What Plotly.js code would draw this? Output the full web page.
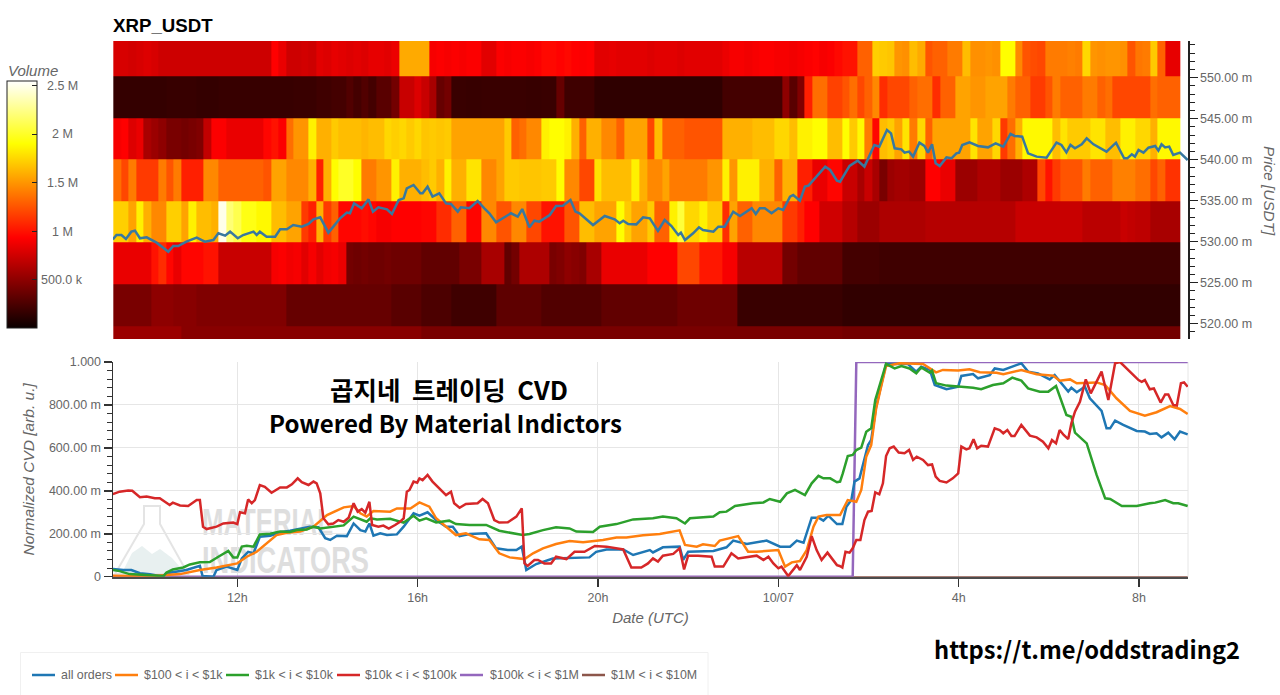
<!DOCTYPE html>
<html><head><meta charset="utf-8">
<script src="https://cdn.plot.ly/plotly-3.0.1.min.js"></script>
<style>html,body{margin:0;padding:0;background:#fff;overflow:hidden}#g{width:1280px;height:695px}</style>
</head><body><div id="g"></div>
<script>
// Heatmap rows, top band first; values are volume in units of 10 k, one per 10-minute column
const band1=[78,78,76,78,80,78,74,74,74,74,74,74,74,74,74,74,74,74,74,74,74,93,85,74,74,76,74,82,80,84,82,80,82,80,84,84,82,86,158,158,158,158,90,92,90,92,90,92,92,82,82,92,90,92,92,90,92,96,96,94,96,93,92,93,82,82,84,82,82,82,82,80,82,82,82,80,82,82,82,82,82,86,90,90,88,90,92,92,90,90,88,90,92,94,90,92,96,100,100,130,130,172,170,168,150,148,165,158,125,130,130,140,140,165,148,148,150,148,190,190,145,125,122,120,140,140,140,142,140,175,150,148,150,150,148,125,138,140,170,130,84,84];
const band2=[16,16,16,16,16,16,16,17,17,17,17,16,16,16,17,17,17,17,17,17,17,17,17,17,18,18,18,20,20,22,22,27,22,27,22,30,30,40,72,72,80,72,60,35,40,18,18,17,17,18,18,18,18,18,18,17,17,18,18,35,20,20,20,20,14,14,14,14,14,14,14,14,14,14,14,14,14,14,14,14,14,22,22,22,22,22,22,22,22,50,30,45,105,135,135,118,118,125,135,120,130,145,110,120,120,120,130,135,135,110,130,130,155,155,150,150,155,155,155,140,130,130,115,115,125,140,130,130,130,140,140,130,135,120,120,120,120,120,135,130,130,130];
const band3=[90,93,80,85,60,55,50,42,42,40,42,45,70,92,92,85,85,85,85,85,95,100,92,135,150,150,185,160,160,170,165,165,165,162,165,165,175,172,175,170,175,168,170,168,170,155,155,155,155,155,155,155,170,130,135,145,145,185,190,190,185,160,130,160,160,145,145,130,155,155,155,120,165,130,130,130,125,125,125,125,125,160,160,160,160,165,165,165,175,175,165,185,185,190,190,165,165,190,170,188,140,95,165,170,155,180,140,175,130,155,155,155,155,155,180,155,155,175,115,135,160,188,188,188,188,165,180,170,170,170,180,180,165,165,185,185,175,175,160,188,188,188];
const band4=[135,120,140,115,115,115,140,125,140,105,105,105,145,145,130,130,130,130,130,130,125,155,155,145,145,145,160,105,160,190,200,200,190,140,140,150,150,185,160,160,160,165,170,160,185,160,160,180,180,145,145,155,170,170,168,168,168,170,170,190,145,145,120,120,180,165,165,165,165,185,160,145,145,155,140,140,140,140,140,150,150,185,150,185,185,185,160,160,130,160,160,105,105,85,85,95,95,72,72,60,72,60,42,55,58,58,55,55,93,93,85,85,55,55,55,62,62,62,55,55,55,62,62,120,100,115,125,125,125,140,130,130,130,142,142,142,135,135,120,130,112,112];
const band5=[172,172,155,185,160,145,145,172,172,155,185,165,165,160,250,220,210,195,195,188,188,165,165,155,155,115,105,160,115,130,95,95,95,98,95,90,90,93,93,93,93,95,95,110,110,130,130,95,95,145,145,125,125,145,145,120,120,100,100,100,125,125,165,165,155,155,155,190,170,155,155,170,130,130,185,205,175,175,185,170,170,110,155,130,130,145,145,145,145,115,115,105,93,93,75,75,75,65,65,55,55,55,62,62,62,62,62,62,65,65,65,65,65,65,65,65,65,65,65,65,72,72,72,72,72,72,72,72,72,67,67,67,67,67,72,70,68,68,60,60,60,60];
const band6=[85,85,85,85,85,100,110,95,85,95,95,95,100,100,72,72,72,72,72,72,72,90,92,88,90,82,90,82,88,90,85,40,38,40,38,38,40,38,38,38,38,33,33,33,33,33,42,42,42,60,60,60,33,40,62,62,62,62,42,45,50,48,45,60,60,85,85,85,85,85,85,93,93,93,93,120,120,120,102,102,102,90,90,66,66,66,66,66,66,40,40,33,33,33,33,33,33,22,22,22,22,22,20,20,20,20,20,20,20,20,20,20,20,20,20,20,20,20,20,20,20,20,20,20,20,20,20,20,20,20,20,20,20,20,20,20,20,20,20,20,20,20];
const band7=[42,42,42,42,42,50,50,50,48,48,48,45,45,45,45,45,45,45,45,45,45,45,45,35,35,35,35,35,35,35,35,35,35,35,35,35,35,30,30,30,30,25,25,25,25,20,20,20,20,20,20,32,32,32,32,32,32,27,27,27,27,27,27,27,27,33,33,33,33,33,33,33,33,33,33,38,38,38,38,38,38,38,38,18,18,18,18,18,18,18,18,18,18,18,18,18,18,15,15,15,15,15,15,15,15,15,15,15,15,15,15,15,15,15,15,15,15,15,15,15,15,15,15,15,15,15,15,15,15,15,15,15,15,15,15,15,15,15,15,15,15,15];
const band8=[55,55,55,55,55,55,55,55,55,48,48,48,48,48,48,48,48,48,48,48,48,48,48,48,48,48,48,48,48,48,48,48,48,48,48,48,48,48,48,48,48,42,42,42,42,42,42,42,42,42,42,42,42,42,42,42,42,42,42,42,42,42,42,42,42,42,42,42,42,42,42,42,42,42,42,42,42,42,42,42,42,42,42,42,42,42,42,42,42,42,42,42,42,42,42,42,42,40,40,40,40,40,40,40,40,40,40,40,40,40,40,40,40,40,40,40,40,40,40,40,40,40,40,40,40,40,40,40,40,40,40,40,40,40,40,40,40,40,40,40,40,40];
const bandEdges=[514.6,519.7,524.8,529.9,534.9,540.0,545.1,550.2,555.3];

// Series: hours since 00:00 on the first day, and value (milli-units)
const priceH=[9.24,9.32,9.43,9.53,9.65,9.73,9.84,9.99,10.21,10.47,10.58,10.69,10.87,11.10,11.28,11.47,11.58,11.73,11.84,12.01,12.13,12.36,12.43,12.50,12.65,12.84,12.95,13.10,13.24,13.43,13.58,13.69,13.84,14.02,14.13,14.28,14.43,14.50,14.59,14.76,14.91,15.01,15.13,15.32,15.43,15.58,15.69,15.76,15.91,16.06,16.11,16.22,16.33,16.48,16.63,16.74,16.89,16.96,17.15,17.33,17.48,17.59,17.74,17.85,18.07,18.22,18.32,18.48,18.59,18.70,18.93,19.07,19.22,19.39,19.50,19.59,19.89,20.15,20.37,20.48,20.56,20.67,20.85,21.00,21.15,21.33,21.48,21.63,21.78,21.84,21.93,22.11,22.24,22.33,22.56,22.67,22.81,23.00,23.15,23.41,23.50,23.59,23.70,23.85,24.00,24.11,24.26,24.33,24.48,24.59,24.67,25.04,25.15,25.30,25.37,25.58,25.76,25.91,26.13,26.24,26.41,26.50,26.58,26.73,26.80,26.90,26.99,27.13,27.24,27.32,27.41,27.49,27.58,27.73,27.84,27.95,28.01,28.08,28.24,28.43,28.65,28.82,28.99,29.15,29.24,29.41,29.54,29.73,29.95,30.17,30.28,30.39,30.48,30.58,30.73,30.84,30.99,31.28,31.49,31.67,31.74,31.84,31.91,31.99,32.10,32.21,32.36,32.43,32.50,32.58,32.67,32.76,32.91,33.08];
const priceV=[530.28,530.81,530.81,530.33,531.22,531.34,530.41,530.53,529.88,528.78,529.47,529.47,530.0,530.49,530.0,530.2,531.02,530.73,531.22,530.41,530.81,531.22,530.81,531.22,530.61,530.61,531.5,531.5,532.03,531.83,532.15,532.72,532.97,531.1,531.83,532.85,533.54,533.46,534.67,534.07,535.16,533.66,534.19,533.94,533.37,535.08,535.28,536.5,536.91,535.89,535.89,536.71,535.49,535.89,534.67,534.59,533.66,534.19,534.07,534.96,534.07,533.46,532.36,532.72,533.46,533.05,533.98,531.75,532.56,532.44,533.25,534.35,534.39,535.08,533.66,533.46,532.03,533.13,532.72,532.24,532.56,532.15,532.11,532.97,532.85,531.3,532.64,531.91,530.81,531.1,530.2,531.02,531.75,531.42,531.22,531.83,531.83,533.66,533.13,534.07,533.37,534.07,534.07,533.46,534.07,533.86,535.49,535.69,535.0,536.71,536.83,539.15,538.74,537.44,537.32,539.23,539.88,539.15,541.79,541.59,543.62,543.21,541.38,541.26,540.85,540.98,540.37,542.07,541.67,540.85,541.87,539.55,539.23,540.28,540.16,540.77,540.85,541.79,542.11,541.67,541.5,541.99,541.59,543.13,542.89,542.8,540.77,540.37,540.24,542.07,541.79,540.89,541.79,541.38,541.87,542.6,541.87,540.98,542.07,540.16,540.16,540.65,540.37,541.18,540.85,541.46,541.67,541.1,541.87,541.5,541.59,540.57,540.85,539.96];

const allH=[9.24,9.47,9.65,9.84,10.06,10.36,10.43,10.65,10.87,11.17,11.23,11.47,11.54,11.76,11.91,12.00,12.10,12.24,12.36,12.50,12.73,12.95,13.17,13.39,13.61,13.80,13.95,14.06,14.21,14.43,14.58,14.73,14.84,14.93,15.02,15.17,15.32,15.54,15.69,15.91,16.04,16.22,16.41,16.63,16.78,16.93,17.15,17.52,17.74,18.00,18.19,18.31,18.41,18.63,19.00,19.81,19.96,20.19,20.56,20.78,21.15,21.22,21.44,21.81,21.89,22.00,22.56,22.85,23.00,23.30,23.74,24.04,24.26,24.41,24.56,24.74,24.89,25.00,25.11,25.30,25.42,25.51,25.62,25.69,25.80,25.99,26.06,26.17,26.28,26.39,26.87,27.06,27.17,27.36,27.47,27.73,27.99,28.06,28.32,28.43,28.69,28.80,28.99,29.21,29.39,29.54,29.76,30.02,30.13,30.43,30.50,30.62,30.80,30.91,31.17,31.28,31.36,31.47,31.65,31.95,32.13,32.24,32.39,32.50,32.65,32.79,32.91,33.08];
const allV=[36,31,31,16,11,0,16,23,31,51,3,0,31,47,39,31,85,116,109,186,191,207,214,225,233,230,179,171,191,189,248,217,210,248,191,202,194,197,233,295,284,300,264,233,233,189,199,202,132,124,124,140,31,59,85,90,116,127,127,101,124,113,137,140,78,116,120,137,168,152,168,140,140,168,158,275,275,261,284,245,245,326,357,443,458,613,637,792,885,991,991,955,978,963,893,873,885,935,944,924,939,970,963,981,994,955,947,919,939,862,880,859,885,831,772,691,691,727,707,679,676,665,668,649,671,640,676,663];

const smallH=[9.24,9.54,10.13,10.43,10.73,11.17,11.54,12.00,12.21,12.43,12.65,12.87,13.10,13.39,13.69,13.99,14.36,14.58,14.73,14.87,15.02,15.39,15.54,15.84,16.04,16.26,16.41,16.63,16.85,17.07,17.37,17.59,17.81,18.04,18.37,18.56,18.78,19.07,19.37,19.67,20.11,20.41,20.63,21.00,21.37,21.81,21.93,22.19,22.33,22.59,22.70,23.11,23.33,23.52,24.00,24.15,24.30,24.48,24.63,24.78,24.89,25.07,25.37,25.54,25.73,25.84,25.95,26.06,26.17,26.28,26.39,26.69,27.21,27.50,27.65,27.99,28.24,28.47,28.84,28.99,29.39,29.73,30.10,30.24,30.47,30.62,31.06,31.25,31.50,31.80,32.13,32.39,32.69,32.91,33.08];
const smallV=[5,3,3,8,12,31,43,62,93,116,155,194,205,210,233,287,323,329,295,280,306,303,318,318,346,326,272,233,194,202,174,171,109,90,82,109,132,152,166,160,171,182,183,193,199,216,148,140,151,143,168,189,116,116,124,47,67,73,124,233,280,287,287,357,349,404,559,613,784,885,981,994,991,952,963,960,966,952,950,943,963,943,936,913,919,901,905,893,831,772,750,766,795,781,758];

const midH=[9.24,9.39,9.61,9.84,10.06,10.36,10.43,10.57,10.80,10.95,11.17,11.39,11.58,11.80,11.91,12.00,12.10,12.21,12.36,12.50,12.73,12.95,13.17,13.32,13.54,13.69,13.84,14.06,14.36,14.58,14.73,14.87,14.95,15.10,15.39,15.69,15.91,16.04,16.19,16.41,16.70,16.85,17.15,17.52,17.81,18.11,18.33,18.48,18.78,19.07,19.37,19.52,19.89,20.04,20.41,20.78,21.22,21.44,21.74,21.93,22.04,22.56,22.70,22.85,23.04,23.44,23.67,23.81,24.04,24.19,24.37,24.59,24.74,24.89,25.00,25.15,25.30,25.37,25.43,25.54,25.65,25.73,25.84,25.95,26.06,26.15,26.24,26.39,26.58,26.73,26.91,27.06,27.17,27.36,27.41,27.50,27.73,28.02,28.32,28.50,28.76,28.99,29.19,29.39,29.54,29.80,29.99,30.16,30.39,30.50,30.58,30.84,31.06,31.25,31.36,31.62,31.95,32.24,32.36,32.58,32.76,32.87,33.08];
const midV=[31,26,12,9,5,3,19,34,43,57,67,68,93,120,90,90,140,144,140,197,200,211,208,217,220,233,225,231,239,280,269,256,272,267,270,252,284,261,272,253,261,245,241,241,214,202,194,199,217,230,225,210,208,233,245,267,272,280,272,248,272,280,300,303,329,342,346,362,349,388,404,380,435,470,458,458,440,443,481,562,567,590,601,675,691,823,885,991,970,981,970,947,975,950,960,901,890,885,880,873,893,901,927,913,877,862,862,888,753,745,671,621,474,365,362,329,329,342,345,357,342,342,329];

const bigH=[9.24,9.39,9.58,9.67,9.84,9.99,10.17,10.28,10.50,10.57,10.73,10.91,11.10,11.17,11.24,11.32,11.54,11.69,11.91,12.00,12.06,12.17,12.24,12.32,12.39,12.50,12.61,12.76,12.95,13.10,13.21,13.34,13.43,13.58,13.69,13.76,13.84,13.91,14.02,14.13,14.24,14.36,14.47,14.58,14.67,14.76,14.84,14.93,14.99,15.13,15.24,15.36,15.50,15.61,15.69,15.76,15.82,15.91,15.99,16.04,16.11,16.22,16.33,16.48,16.63,16.74,16.81,16.93,17.07,17.33,17.44,17.56,17.70,17.81,18.00,18.19,18.31,18.37,18.44,18.59,18.67,18.81,18.96,19.07,19.30,19.48,19.70,19.93,20.19,20.56,20.74,20.96,21.11,21.22,21.33,21.44,21.67,21.81,21.91,22.00,22.22,22.52,22.59,22.78,22.96,23.11,23.33,23.52,23.67,23.78,23.89,24.00,24.07,24.22,24.41,24.48,24.63,24.74,24.85,24.96,25.09,25.30,25.36,25.42,25.49,25.58,25.65,25.73,25.82,25.91,25.99,26.07,26.15,26.24,26.32,26.39,26.47,26.56,26.67,26.80,26.90,26.99,27.07,27.21,27.32,27.41,27.49,27.58,27.73,27.87,27.99,28.06,28.17,28.24,28.33,28.41,28.50,28.65,28.80,28.91,28.99,29.08,29.17,29.24,29.39,29.58,29.73,29.87,29.99,30.07,30.16,30.24,30.33,30.43,30.50,30.58,30.69,30.82,30.93,31.17,31.32,31.47,31.58,31.76,31.99,32.06,32.13,32.24,32.33,32.48,32.58,32.65,32.76,32.84,32.93,33.00,33.08];
const bigV=[385,396,402,400,370,373,365,365,334,345,332,329,357,357,233,222,233,248,252,245,300,295,360,342,357,427,419,391,416,416,430,458,440,427,443,435,388,272,244,248,264,256,275,342,303,315,298,349,241,233,238,224,241,256,272,396,404,443,438,458,450,474,443,412,380,396,342,321,339,342,362,342,264,252,253,280,318,62,50,78,78,62,62,93,82,116,116,143,140,127,43,43,62,85,70,98,106,132,34,98,98,93,47,47,109,85,93,98,78,93,62,39,47,3,54,31,93,189,124,78,112,54,50,43,116,112,132,171,171,264,303,306,393,384,435,562,598,606,578,575,590,544,559,544,520,523,466,446,439,458,481,606,593,598,640,598,610,606,691,683,668,683,655,655,707,657,649,629,598,637,621,683,660,641,714,769,815,919,854,955,823,994,1000,963,916,908,916,873,877,811,849,849,800,797,901,905,885];

const whaleH=[9.24,25.65,25.73,33.08];
const whaleV=[0,0,1000,1000];
const hugeH=[9.24,33.08];
const hugeV=[0,0];

const seriesNames=['all orders','$100 < i < $1k','$1k < i < $10k','$10k < i < $100k','$100k < i < $1M','$1M < i < $10M'];
const seriesColors=['#1f77b4','#ff7f0e','#2ca02c','#d62728','#9467bd','#8c564b'];
const xTickHours=[12,16,20,24,28,32];
const xTickText=['12h','16h','20h','10/07','4h','8h'];
const cvdTicks=[0,200,400,600,800,1000];
const cvdTickText=['0','200.00 m','400.00 m','600.00 m','800.00 m','1.000'];
const cbTicks=[500000,1000000,1500000,2000000,2500000];
const cbTickText=['500.0 k','1 M','1.5 M','2 M','2.5 M'];

const W=1280,H=695;
const T0=Date.UTC(2023,9,6);
const iso=h=>new Date(T0+h*3600000).toISOString();
const px=x=>x/W, py=y=>1-y/H;
const hotScale=[[0,'#0a0000'],[0.365,'#ff0000'],[0.746,'#ffff00'],[1,'#ffffff']];
const xRange=[iso(9.243),iso(33.087)];
const TXT='#666666', SANS='"Liberation Sans",Arial,sans-serif';

const colEdges=[];for(let i=0;i<=band1.length;i++)colEdges.push(iso(9.25+i/6));
const rows=[band8,band7,band6,band5,band4,band3,band2,band1].map(r=>r.map(v=>v*10000));

const lineTrace=(h,v,i,w)=>({type:'scatter',mode:'lines',x:h.map(iso),y:v,name:seriesNames[i],xaxis:'x',yaxis:'y',line:{color:seriesColors[i],width:w||2.5},showlegend:false,hoverinfo:'skip'});

const data=[
 {type:'heatmap',x:colEdges,y:bandEdges,z:rows,xaxis:'x2',yaxis:'y2',zmin:0,zmax:2550000,colorscale:hotScale,zsmooth:false,hoverinfo:'skip',
  colorbar:{x:px(7),xanchor:'left',xpad:0,y:py(81),yanchor:'top',ypad:0,len:247/H,lenmode:'fraction',thickness:30,thicknessmode:'pixels',
   outlinecolor:'#222',outlinewidth:1,ticks:'inside',ticklen:5,tickcolor:'#222',tickmode:'array',tickvals:cbTicks,showticklabels:false,bgcolor:'rgba(0,0,0,0)',borderwidth:0}},
 {type:'scatter',mode:'lines',x:priceH.map(iso),y:priceV,xaxis:'x2',yaxis:'y2',line:{color:'#38789f',width:2.5},showlegend:false,name:'Price',hoverinfo:'skip'},
 lineTrace(hugeH,hugeV,5,1.5),lineTrace(whaleH,whaleV,4),lineTrace(allH,allV,0),lineTrace(smallH,smallV,1),lineTrace(midH,midV,2),lineTrace(bigH,bigV,3)
];

const shapes=[];
const annotations=[];
// right-hand border of the lower plot
shapes.push({type:'line',xref:'paper',yref:'paper',x0:px(1188),x1:px(1188),y0:py(362),y1:py(576.7),line:{color:'#e6e6e6',width:1},layer:'below'});
// watermark
const wm=(t,x0,y0,x1,y1,size)=>shapes.push({type:'rect',xref:'paper',yref:'paper',x0:px(x0),x1:px(x1),y0:py(y1),y1:py(y0),line:{width:0},fillcolor:'rgba(0,0,0,0)',layer:'below',
  label:{text:'<b>'+t+'</b>',textposition:'middle left',padding:0,font:{family:'"Liberation Sans",sans-serif',size:size,color:'#dedede'}}});
wm('MATERIAL',199,502,366,534,37);
wm('INDICATORS',199,540,366,572,37);
const pathOf=pts=>pts.map((p,i)=>(i?'L':'M')+px(p[0])+','+py(p[1])).join(' ')+' Z';
shapes.push({type:'path',xref:'paper',yref:'paper',layer:'below',path:pathOf([[121,575],[132,553],[142,546],[152,554],[160,549],[172,558],[187,575]]),fillcolor:'#e8f0f0',line:{width:0}});
shapes.push({type:'path',xref:'paper',yref:'paper',layer:'below',path:pathOf([[144,506],[160,506],[160,524],[188,574],[115,574],[144,524]]),fillcolor:'rgba(0,0,0,0)',line:{color:'#e4e4e4',width:2}});
// legend box and samples
shapes.push({type:'rect',xref:'paper',yref:'paper',x0:px(20.5),x1:px(708),y0:py(700),y1:py(652.5),line:{color:'#f0f0f0',width:1},fillcolor:'rgba(255,255,255,0)'});
const legendLine=[[32,55],[115,138],[226,249],[337,360],[460,483],[582,605]];
const legendText=[61,144,255,365,490,611];
seriesNames.forEach((n,i)=>{
 shapes.push({type:'line',xref:'paper',yref:'paper',x0:px(legendLine[i][0]),x1:px(legendLine[i][1]),y0:py(675),y1:py(675),line:{color:seriesColors[i],width:2.5}});
 annotations.push({xref:'paper',yref:'paper',x:px(legendText[i]-1),y:py(675),xanchor:'left',yanchor:'middle',showarrow:false,borderpad:0,text:n.replace(/</g,'&lt;'),font:{family:SANS,size:12.4,color:TXT}});
});
// colour bar labels
cbTicks.forEach((v,i)=>annotations.push({xref:'paper',yref:'paper',x:px(62),y:py(328.5-v/1e6*97),xanchor:'center',yanchor:'middle',showarrow:false,text:cbTickText[i],font:{family:SANS,size:12.5,color:TXT}}));
const note=(t,x,y,size,family,color,italic,angle)=>annotations.push({xref:'paper',yref:'paper',x:px(x),y:py(y),xanchor:'center',yanchor:'middle',showarrow:false,text:t,textangle:angle||0,font:{family:family,size:size,color:color,style:italic?'italic':'normal'}});
note('Volume',33,71,15,SANS,TXT,true);
note('Price [USDT]',1269,191,15.3,SANS,TXT,true,90);
const BOLD='"Noto Sans CJK KR","Noto Sans",sans-serif';
note('<b>곱지네\u00a0 트레이딩\u00a0 CVD</b>',448.5,388,25.5,BOLD,'#000');
note('<b>Powered By Material Indictors</b>',445.5,422,24,BOLD,'#000');
note('<b>https://t.me/oddstrading2</b>',1087,649,23.7,BOLD,'#000');

const layout={
 width:W,height:H,margin:{l:0,r:0,t:0,b:0,pad:0},paper_bgcolor:'#fff',plot_bgcolor:'#fff',showlegend:false,
 title:{text:'<b>XRP_USDT</b>',x:px(113),xref:'paper',xanchor:'left',y:py(25),yanchor:'middle',font:{family:SANS,size:18.7,color:'#000'}},
 font:{family:SANS,size:12.5,color:TXT},
 xaxis:{domain:[px(113),px(1188)],anchor:'y',type:'date',range:xRange,tickmode:'array',tickvals:xTickHours.map(iso),ticktext:xTickText,
  ticks:'outside',ticklen:8,tickcolor:'#333',tickwidth:1.5,showline:true,linecolor:'rgba(45,45,45,0.85)',linewidth:2,showgrid:true,gridcolor:'#e6e6e6',zeroline:false,
  tickfont:{family:SANS,size:12.5,color:TXT},title:{text:'Date (UTC)',standoff:9,font:{family:SANS,size:15,style:'italic',color:TXT}}},
 yaxis:{domain:[py(576.7),py(362)],anchor:'x',range:[0,1000],tickmode:'array',tickvals:cvdTicks,ticktext:cvdTickText,
  ticks:'outside',ticklen:8,tickcolor:'#333',tickwidth:1.5,showline:true,linecolor:'#333',linewidth:1.5,showgrid:true,gridcolor:'#e6e6e6',zeroline:false,
  minor:{tickmode:'linear',dtick:40,tick0:0,ticks:'outside',ticklen:5,tickcolor:'#333',tickwidth:1,showgrid:false},
  tickfont:{family:SANS,size:12.5,color:TXT},title:{text:'Normalized CVD [arb. u.]',standoff:10,font:{family:SANS,size:15.5,style:'italic',color:TXT}}},
 xaxis2:{domain:[px(113),px(1188)],anchor:'y2',type:'date',range:xRange,visible:false},
 yaxis2:{domain:[py(339),py(41)],anchor:'x2',side:'right',range:[518.13,554.47],tickmode:'linear',tick0:0,dtick:5,tickformat:'.2f',ticksuffix:' m',
  ticks:'outside',ticklen:8,tickcolor:'#222',tickwidth:1.5,showline:true,linecolor:'#222',linewidth:1.5,showgrid:false,zeroline:false,
  minor:{dtick:1,ticks:'outside',ticklen:5,tickcolor:'#222',tickwidth:1,showgrid:false},
  tickfont:{family:SANS,size:12.5,color:TXT}},
 shapes:shapes,annotations:annotations
};
const condensed={MATERIAL:131,INDICATORS:167};
Plotly.newPlot('g',data,layout,{displayModeBar:false,staticPlot:true}).then(()=>{
 document.querySelectorAll('#g text').forEach(t=>{
  const w=condensed[t.textContent.trim()];
  if(w){t.setAttribute('textLength',w);t.setAttribute('lengthAdjust','spacingAndGlyphs');}
 });
});
</script></body></html>
